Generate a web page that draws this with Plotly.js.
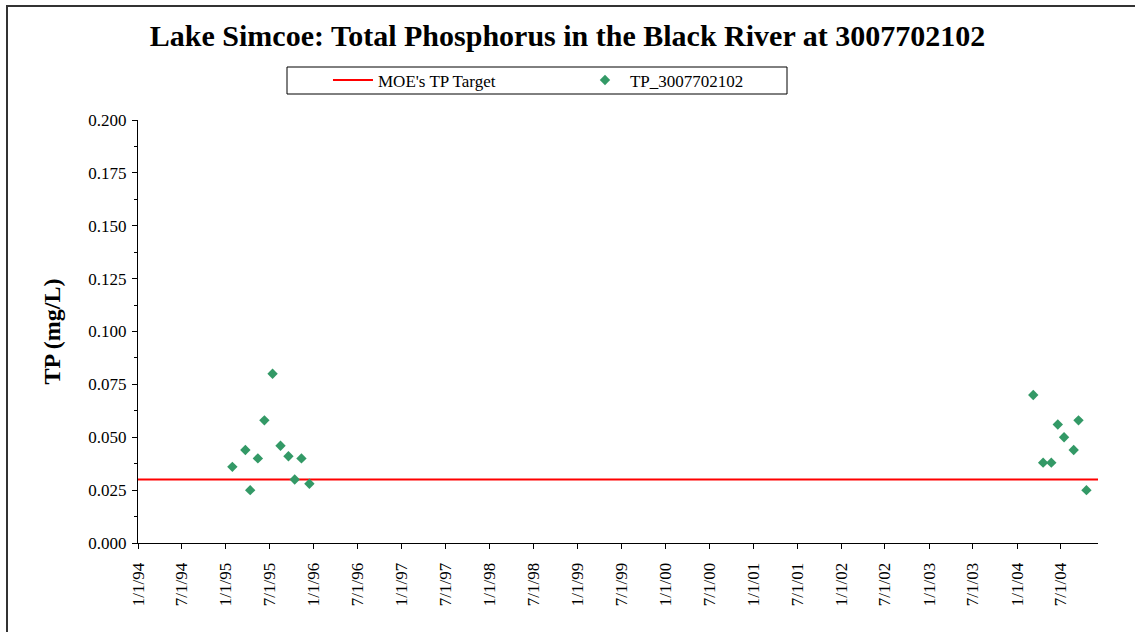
<!DOCTYPE html>
<html>
<head>
<meta charset="utf-8">
<script src="https://cdn.plot.ly/plotly-3.0.1.min.js"></script>
<style>
  html, body { margin: 0; padding: 0; background: #ffffff; }
  #chart { width: 1135px; height: 632px; }
</style>
</head>
<body>
<div id="chart"></div>
<script>
// ---- data ----
const chartTitle = "Lake Simcoe: Total Phosphorus in the Black River at 3007702102";
const yAxisTitle = "TP (mg/L)";
const targetName = "MOE's TP Target";
const seriesName = "TP_3007702102";

const targetDates = ["1994-01-01", "2004-12-02"];
const targetValues = [0.03, 0.03];

const tpDates = [
  "1995-01-28", "1995-03-23", "1995-04-12", "1995-05-14", "1995-06-10",
  "1995-07-14", "1995-08-16", "1995-09-18", "1995-10-14", "1995-11-11",
  "1995-12-14",
  "2004-03-08", "2004-04-18", "2004-05-22", "2004-06-18", "2004-07-14",
  "2004-08-23", "2004-09-12", "2004-10-15"
];
const tpValues = [
  0.036, 0.044, 0.025, 0.040, 0.058,
  0.080, 0.046, 0.041, 0.030, 0.040,
  0.028,
  0.070, 0.038, 0.038, 0.056, 0.050,
  0.044, 0.058, 0.025
];

const xTickDates = [
  "1994-01-01", "1994-07-01", "1995-01-01", "1995-07-01", "1996-01-01", "1996-07-01",
  "1997-01-01", "1997-07-01", "1998-01-01", "1998-07-01", "1999-01-01", "1999-07-01",
  "2000-01-01", "2000-07-01", "2001-01-01", "2001-07-01", "2002-01-01", "2002-07-01",
  "2003-01-01", "2003-07-01", "2004-01-01", "2004-07-01"
];
const xTickLabels = [
  "1/1/94", "7/1/94", "1/1/95", "7/1/95", "1/1/96", "7/1/96",
  "1/1/97", "7/1/97", "1/1/98", "7/1/98", "1/1/99", "7/1/99",
  "1/1/00", "7/1/00", "1/1/01", "7/1/01", "1/1/02", "7/1/02",
  "1/1/03", "7/1/03", "1/1/04", "7/1/04"
];
const xRange = ["1994-01-01", "2004-12-02"];
const yRange = [0, 0.2];

// ---- chart ----
const serif = "Liberation Serif";

const traces = [
  {
    type: "scatter",
    mode: "lines",
    name: targetName,
    x: targetDates,
    y: targetValues,
    line: { color: "#ff0000", width: 2 },
    hoverinfo: "skip"
  },
  {
    type: "scatter",
    mode: "markers",
    name: seriesName,
    x: tpDates,
    y: tpValues,
    marker: { symbol: "diamond", size: 8, color: "#339966", line: { width: 0 } }
  }
];

const layout = {
  width: 1135,
  height: 632,
  paper_bgcolor: "#ffffff",
  plot_bgcolor: "#ffffff",
  margin: { l: 138, r: 37, t: 120, b: 89, autoexpand: false },
  font: { family: serif, color: "#000000", size: 17 },
  title: {
    text: "<b>" + chartTitle + "</b>",
    x: 0.5, xanchor: "center", xref: "container",
    y: 1 - 35 / 632, yanchor: "middle", yref: "container",
    font: { family: serif, size: 30, color: "#000000" }
  },
  showlegend: true,
  legend: {
    orientation: "h",
    x: 0.1979, xanchor: "left",
    y: 1.0934, yanchor: "middle",
    bgcolor: "rgba(0,0,0,0)",
    borderwidth: 0,
    itemwidth: 40,
    entrywidth: 197,
    font: { family: serif, size: 17, color: "#000000" }
  },
  xaxis: {
    type: "date",
    range: xRange,
    tickmode: "array",
    tickvals: xTickDates,
    ticktext: xTickLabels,
    tickangle: -90,
    ticks: "outside",
    ticklen: 5,
    tickcolor: "#000000",
    ticklabelstandoff: 7,
    showline: true,
    linecolor: "#000000",
    linewidth: 1,
    showgrid: false,
    zeroline: false,
    automargin: false,
    tickfont: { family: serif, size: 17, color: "#000000" }
  },
  yaxis: {
    range: yRange,
    dtick: 0.025,
    tick0: 0,
    tickformat: ".3f",
    ticks: "outside",
    ticklen: 5,
    tickcolor: "#000000",
    ticklabelstandoff: 2,
    minor: { dtick: 0.0125, ticks: "outside", ticklen: 3, tickcolor: "#000000" },
    showline: true,
    linecolor: "#000000",
    linewidth: 1,
    showgrid: false,
    zeroline: false,
    automargin: false,
    tickfont: { family: serif, size: 17, color: "#000000" },
    title: {
      text: "<b>" + yAxisTitle + "</b>",
      font: { family: serif, size: 24, color: "#000000" },
      standoff: 20
    }
  },
  shapes: [
    {
      type: "rect", xref: "paper", yref: "paper",
      x0: (287 - 138) / 960, x1: (787 - 138) / 960,
      y0: (543 - 94) / 423, y1: (543 - 67) / 423,
      line: { color: "#000000", width: 1 },
      fillcolor: "rgba(0,0,0,0)", layer: "below"
    },
    {
      type: "rect", xref: "paper", yref: "paper",
      x0: (7 - 138) / 960, x1: 1.3,
      y0: -0.5, y1: (543 - 6) / 423,
      line: { color: "#333333", width: 2 },
      fillcolor: "rgba(0,0,0,0)", layer: "below"
    }
  ]
};

Plotly.newPlot("chart", traces, layout, { displayModeBar: false, staticPlot: true });
</script>
</body>
</html>
